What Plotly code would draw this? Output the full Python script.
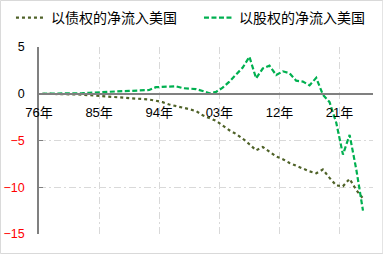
import plotly.graph_objects as go

years = list(range(1976, 2025))

debt = [0.0, 0.0, -0.02, -0.03, -0.05, -0.07, -0.1, -0.15, -0.2, -0.25,
        -0.3, -0.38, -0.42, -0.46, -0.5, -0.55, -0.62, -0.75, -0.9, -1.15,
        -1.3, -1.5, -1.65, -1.85, -2.3, -2.6, -2.9, -3.4, -3.9, -4.3,
        -4.8, -5.4, -6.05, -5.7, -6.2, -6.7, -7.0, -7.4, -7.7, -8.0,
        -8.3, -8.5, -8.1, -9.0, -9.8, -9.9, -9.1, -10.3, -11.2]

equity = [0.0, 0.0, 0.0, 0.0, 0.0, 0.03, 0.06, 0.1, 0.15, 0.18,
          0.2, 0.25, 0.28, 0.3, 0.32, 0.35, 0.4, 0.7, 0.75, 0.8,
          0.8, 0.6, 0.55, 0.5, 0.3, 0.05, 0.2, 0.65, 1.3, 2.0,
          2.8, 3.95, 1.65, 2.7, 3.0, 2.0, 2.4, 2.2, 1.4, 1.3,
          0.9, 1.7, -0.1, -0.9, -3.1, -6.5, -4.4, -8.1, -12.5]

series_names = ["以债权的净流入美国", "以股权的净流入美国"]
tick_years = [1976, 1985, 1994, 2003, 2012, 2021]
tick_labels = ["76年", "85年", "94年", "03年", "12年", "21年"]
y_ticks = [5, 0, -5, -10, -15]

W, H = 383, 254
ml, mr, mt, mb = 39, 10.3, 47, 20
pw, ph = W - ml - mr, H - mt - mb

fig = go.Figure()
fig.add_trace(go.Scatter(x=years, y=debt, mode="lines", name=series_names[0],
                         line=dict(color="#4f6228", width=2.2, dash="dot")))
fig.add_trace(go.Scatter(x=years, y=equity, mode="lines", name=series_names[1],
                         line=dict(color="#00b050", width=2.2, dash="5px,2.5px")))

def ylab(v):
    s = str(v).replace("-", "−")
    if v < 0:
        return "<span style='color:#ff0000'>" + s + "</span>"
    return s

ymin, ymax = -15, 5
zero_pos = (0 - ymin) / (ymax - ymin)

grid = dict(showgrid=True, gridcolor="#d9d9d9", gridwidth=1,
            griddash="7px,3px,2px,3px")

fig.update_layout(
    width=W, height=H,
    margin=dict(l=ml, r=mr, t=mt, b=mb, autoexpand=False),
    paper_bgcolor="white", plot_bgcolor="white",
    font=dict(family="Liberation Sans, Noto Sans CJK SC", size=12, color="#000"),
    showlegend=True,
    legend=dict(orientation="h", x=(11 - ml) / pw, y=1 + (mt - 18) / ph,
                xanchor="left", yanchor="middle",
                font=dict(family="Noto Sans CJK SC", size=14, color="#000"),
                bgcolor="rgba(0,0,0,0)", itemwidth=30, tracegroupgap=0,
                entrywidth=143, entrywidthmode="pixels"),
    xaxis=dict(range=[1975.5, 2025.5],
               tickvals=[y - 0.5 for y in tick_years], ticktext=tick_labels,
               anchor="free", position=zero_pos,
               showline=True, linecolor="#808080", linewidth=1.5,
               ticks="", zeroline=False,
               tickfont=dict(family="Liberation Sans, Noto Sans CJK SC", size=13, color="#000"),
               ticklabelstandoff=7,
               **grid),
    yaxis=dict(range=[ymin, ymax], tickvals=y_ticks,
               ticktext=[ylab(v) for v in y_ticks],
               showline=True, linecolor="#808080", linewidth=1.5,
               ticks="inside", ticklen=4, tickcolor="#808080",
               zeroline=False, ticklabelstandoff=10,
               tickfont=dict(family="Liberation Sans", size=12.5, color="#000"),
               **grid),
    shapes=[dict(type="rect", xref="paper", yref="paper",
                 x0=(-ml + 0.5) / pw, x1=1 + (mr - 0.5) / pw,
                 y0=-(mb - 0.5) / ph, y1=1 + (mt - 0.5) / ph,
                 line=dict(color="#d9d9d9", width=1), layer="below")],
)

fig.write_html("out.html")
